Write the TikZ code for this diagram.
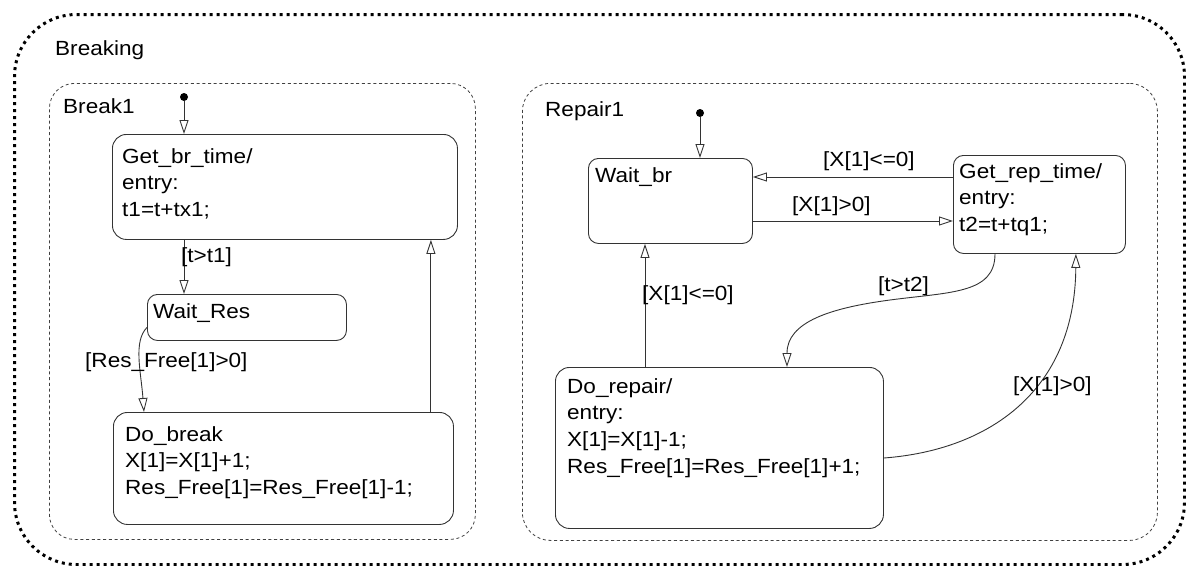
\documentclass[tikz,border=0pt]{standalone}
\usepackage{fontspec}
\setmainfont{Liberation Sans}[FakeStretch=1.1]
\usetikzlibrary{arrows.meta}
\newcommand\diagfont{\fontsize{20.5}{26.8}\selectfont}
\begin{document}
\begin{tikzpicture}[x=1pt,y=-1pt,
  superbox/.style={draw=black, line width=3pt, dash pattern=on 3pt off 4pt, rounded corners=62pt, anchor=north west, inner sep=0pt},
  subbox/.style={draw=black!75, line width=0.8pt, dash pattern=on 3pt off 2.7pt, rounded corners=#1, anchor=north west, inner sep=0pt},
  statebox/.style={draw=black!80, line width=0.9pt, rounded corners=#1, anchor=north west, inner sep=0pt},
  statebox/.default=14pt,
  txt/.style={anchor=north west, inner sep=0pt, align=left, font=\diagfont, text=black},
  lbl/.style={anchor=west, inner sep=0pt, font=\diagfont, text=black},
  initdot/.style={circle, fill=black, inner sep=0pt, minimum size=8pt},
  tr/.style={draw=black!80, line width=0.9pt, -{Triangle[open, length=14pt, width=9pt]}},
]
\useasboundingbox (0,0) rectangle (1186,565);

% superstates
\node[superbox, minimum width=1170pt, minimum height=550pt] (breaking) at (13,13) {};
\node[lbl] (breakingT) at (55,50) {Breaking};
\node[subbox=25pt, minimum width=426pt, minimum height=456pt] (break1) at (49,83) {};
\node[lbl] (break1T) at (63,106) {Break1};
\node[subbox=28pt, minimum width=635pt, minimum height=457pt] (repair1) at (522,83) {};
\node[lbl] (repair1T) at (545,111) {Repair1};

% Break1 states
\node[statebox, minimum width=345pt, minimum height=105pt] (gbt) at (112,134) {};
\node[txt] (gbtT) at (122,148) {Get\_br\_time/\\entry:\\t1=t+tx1;};
\node[statebox=10pt, minimum width=199pt, minimum height=46pt] (wres) at (147,294) {};
\node[txt] (wresT) at (153,303) {Wait\_Res};
\node[statebox, minimum width=340pt, minimum height=112pt] (dob) at (113,412) {};
\node[txt] (dobT) at (125,426) {Do\_break\\X[1]=X[1]+1;\\Res\_Free[1]=Res\_Free[1]-1;};

% Repair1 states
\node[statebox=10pt, minimum width=164pt, minimum height=85pt] (wbr) at (588,158) {};
\node[txt] (wbrT) at (595,167) {Wait\_br};
\node[statebox=10pt, minimum width=172pt, minimum height=98pt] (grt) at (953,155) {};
\node[txt] (grtT) at (959,163) {Get\_rep\_time/\\entry:\\t2=t+tq1;};
\node[statebox, minimum width=328pt, minimum height=161pt] (dor) at (555,367) {};
\node[txt] (dorT) at (567,378) {Do\_repair/\\entry:\\X[1]=X[1]-1;\\Res\_Free[1]=Res\_Free[1]+1;};

% initial dots
\node[initdot] (d1) at (184,97) {};
\node[initdot] (d2) at (700,113) {};

% Break1 transitions
\draw[tr] (d1) -- (d1 |- gbt.north);
\draw[tr] (gbt.south -| d1) -- (wres.north -| d1);
\node[lbl] (l1) at (181,257) {[t>t1]};
\coordinate (b1) at ([yshift=-10pt]wres.west);
\coordinate (b2) at ([xshift=31pt]dob.north west);
\draw[tr] (b1) .. controls +(-14,14) and +(-3,-40) .. (b2);
\node[lbl] (l2) at (85,362) {[Res\_Free[1]>0]};
\coordinate (b3) at ([xshift=-23pt]dob.north east);
\draw[tr] (b3) -- (b3 |- gbt.south);

% Repair1 transitions
\draw[tr] (d2) -- (d2 |- wbr.north);
\coordinate (r1) at ([yshift=-22pt]grt.north west);
\draw[tr] (r1) -- (r1 -| wbr.east);
\node[lbl] (l3) at (823,161) {[X[1]<=0]};
\coordinate (r2) at ([yshift=-63pt]wbr.north east);
\draw[tr] (r2) -- (r2 -| grt.west);
\node[lbl] (l4) at (792,206) {[X[1]>0]};
\coordinate (r3) at ([xshift=90pt]dor.north west);
\draw[tr] (r3) -- (r3 |- wbr.south);
\node[lbl] (l5) at (642,295) {[X[1]<=0]};
\coordinate (r5) at ([xshift=42pt]grt.south west);
\coordinate (r6) at ([xshift=232pt]dor.north west);
\coordinate (r7) at (890,300);
\draw[tr] (r5) .. controls +(0,40) and +(60,-8) .. (r7) .. controls +(-60,8) and +(0,-45) .. (r6);
\node[lbl] (l6) at (878,286) {[t>t2]};
\coordinate (r4) at ([yshift=-91pt]dor.north east);
\coordinate (r8) at ([xshift=-50pt]grt.south east);
\draw[tr] (r4) .. controls (990,450) and (1075,390) .. (r8);
\node[lbl] (l7) at (1013,386) {[X[1]>0]};
\end{tikzpicture}
\end{document}
